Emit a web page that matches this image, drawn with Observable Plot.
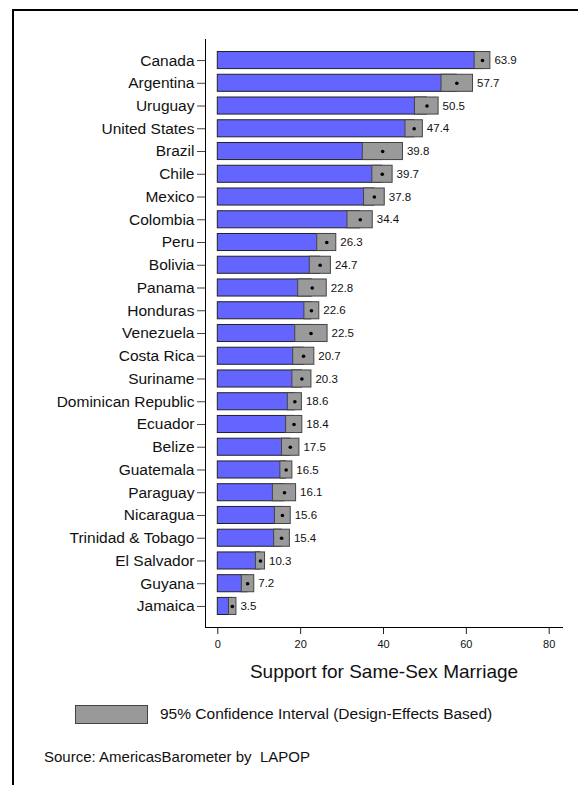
<!DOCTYPE html>
<html>
<head>
<meta charset="utf-8">
<script src="https://cdn.jsdelivr.net/npm/d3@7"></script>
<script src="https://cdn.jsdelivr.net/npm/@observablehq/plot@0.6"></script>
<style>
  html, body { margin: 0; padding: 0; background: #fff; overflow: hidden; }
  #wrap { position: relative; width: 578px; height: 785px; font-family: Arial, "Liberation Sans", sans-serif; }
  #border { position: absolute; left: 12px; top: 9px; width: 700px; height: 900px; border-left: 2px solid #000; border-top: 2px solid #000; }
  #chart { position: absolute; left: 0; top: 0; }
  #legbox { position: absolute; left: 75px; top: 705px; width: 71px; height: 17px; background: #999; border: 1px solid #444; }
  #legtext { position: absolute; left: 160px; top: 704px; font-size: 15.5px; line-height: 20px; color: #111; white-space: pre; }
  #source { position: absolute; left: 44px; top: 747px; font-size: 15px; line-height: 20px; color: #111; white-space: pre; }
</style>
</head>
<body>
<div id="wrap">
  <div id="border"></div>
  <div id="chart"></div>
  <div id="legbox"></div>
  <div id="legtext">95% Confidence Interval (Design-Effects Based)</div>
  <div id="source">Source: AmericasBarometer by  LAPOP</div>
</div>
<script>
const countries = ["Canada","Argentina","Uruguay","United States","Brazil","Chile","Mexico","Colombia","Peru","Bolivia","Panama","Honduras","Venezuela","Costa Rica","Suriname","Dominican Republic","Ecuador","Belize","Guatemala","Paraguay","Nicaragua","Trinidad & Tobago","El Salvador","Guyana","Jamaica"];
const means = [63.9,57.7,50.5,47.4,39.8,39.7,37.8,34.4,26.3,24.7,22.8,22.6,22.5,20.7,20.3,18.6,18.4,17.5,16.5,16.1,15.6,15.4,10.3,7.2,3.5];
const lower = [62.0,54.0,47.6,45.3,35.0,37.3,35.3,31.3,24.0,22.2,19.4,20.9,18.7,18.2,18.0,16.9,16.5,15.5,15.1,13.3,13.8,13.6,9.2,5.8,2.7];
const upper = [65.8,61.6,53.3,49.5,44.7,42.2,40.3,37.4,28.6,27.3,26.3,24.5,26.5,23.3,22.6,20.3,20.4,19.7,18.0,18.9,17.6,17.4,11.4,8.8,4.5];
const xTicks = [0,20,40,60,80];
const axisTitle = "Support for Same-Sex Marriage";

const data = countries.map((c, i) => ({country: c, mean: means[i], lo: lower[i], hi: upper[i]}));

const chart = Plot.plot({
  width: 578,
  height: 690,
  marginLeft: 205,
  marginRight: 16,
  marginTop: 39,
  marginBottom: 63,
  style: {fontFamily: "Arial, 'Liberation Sans', sans-serif", color: "#111", background: "transparent"},
  x: {domain: [-2.97, 83.21]},
  y: {domain: countries, paddingInner: 0.25, paddingOuter: 0.55, round: false},
  marks: [
    Plot.barX(data, {x1: 0, x2: "mean", y: "country", fill: "#6464ff", stroke: "#222", strokeWidth: 1}),
    Plot.barX(data, {x1: "lo", x2: "hi", y: "country", fill: "#9a9a9a", stroke: "#444", strokeWidth: 1}),
    Plot.dot(data, {x: "mean", y: "country", r: 1.8, fill: "#000", stroke: null}),
    Plot.text(data, {x: "hi", y: "country", text: d => d.mean.toFixed(1), dx: 4, textAnchor: "start", fontSize: 11.5, fill: "#111"}),
    Plot.axisY({tickSize: 8, tickPadding: 3, fontSize: 15.5, label: null, stroke: "#444"}),
    Plot.axisX({ticks: xTicks, tickSize: 7, tickPadding: 6, fontSize: 11, label: null, stroke: "#222"}),
    Plot.frame({anchor: "left", stroke: "#000"}),
    Plot.frame({anchor: "bottom", stroke: "#000"}),
    Plot.text([axisTitle], {frameAnchor: "bottom", text: d => d, dy: 50, fontSize: 19, fill: "#111"})
  ]
});
document.getElementById("chart").appendChild(chart);
</script>
</body>
</html>
